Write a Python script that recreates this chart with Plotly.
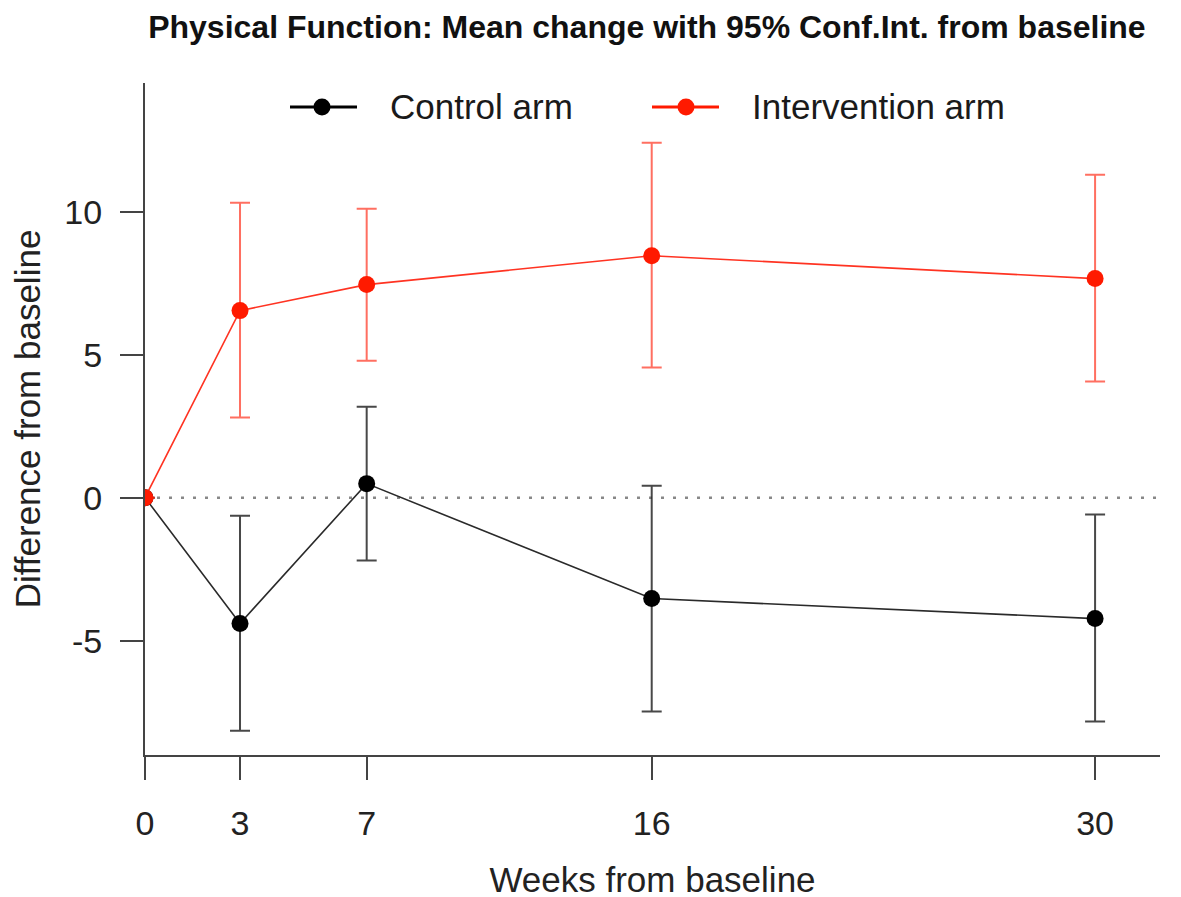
import plotly.graph_objects as go

weeks = [0, 3, 7, 16, 30]
control_mean = [0, -4.40, 0.49, -3.53, -4.23]
control_lower = [None, -8.15, -2.20, -7.48, -7.83]
control_upper = [None, -0.63, 3.18, 0.42, -0.59]
interv_mean = [0, 6.54, 7.45, 8.46, 7.66]
interv_lower = [None, 2.80, 4.79, 4.55, 4.06]
interv_upper = [None, 10.31, 10.10, 12.41, 11.29]
x_ticks = [0, 3, 7, 16, 30]
y_ticks = [-5, 0, 5, 10]

FONT = "Liberation Sans, Arial, sans-serif"


def err_plus(mean, upper):
    return [None if u is None else u - m for m, u in zip(mean, upper)]


def err_minus(mean, lower):
    return [None if l is None else m - l for m, l in zip(mean, lower)]


fig = go.Figure()
fig.add_trace(go.Scatter(
    x=weeks, y=control_mean, mode="lines+markers", name="Control arm",
    line=dict(color="#2a2a2a", width=1.6),
    marker=dict(color="#000000", size=17),
    error_y=dict(type="data", symmetric=False,
                 array=err_plus(control_mean, control_upper),
                 arrayminus=err_minus(control_mean, control_lower),
                 color="rgba(40,40,40,0.85)", thickness=2, width=10),
    showlegend=False,
))
fig.add_trace(go.Scatter(
    x=weeks, y=interv_mean, mode="lines+markers", name="Intervention arm",
    line=dict(color="#ff3322", width=1.6),
    marker=dict(color="#ff1a00", size=17),
    error_y=dict(type="data", symmetric=False,
                 array=err_plus(interv_mean, interv_upper),
                 arrayminus=err_minus(interv_mean, interv_lower),
                 color="rgba(255,50,30,0.7)", thickness=2, width=10),
    showlegend=False,
))

# zero reference line
fig.add_shape(type="line", xref="x", yref="y", x0=0, x1=32.05, y0=0, y1=0,
              line=dict(color="#888888", width=2.5, dash="3px,9px"), layer="below")

# custom legend (paper coordinates; plot area spans 145..1160 x 83..755 on screen)
W, H, L, B = 1015.0, 672.0, 145.0, 755.0


def px(xp):
    return (xp - L) / W


def py(yp):
    return (B - yp) / H


legend_items = [("Control arm", "#000000", 290, 357, 322, 388),
                ("Intervention arm", "#ff1a00", 652, 719, 686, 750)]
ly = 107
for label, col, lx0, lx1, mx, tx in legend_items:
    fig.add_shape(type="line", xref="paper", yref="paper",
                  x0=px(lx0), x1=px(lx1), y0=py(ly), y1=py(ly),
                  line=dict(color=col, width=3))
    fig.add_shape(type="circle", xref="paper", yref="paper",
                  xsizemode="pixel", ysizemode="pixel",
                  xanchor=px(mx), yanchor=py(ly), x0=-8.5, x1=8.5, y0=-8.5, y1=8.5,
                  fillcolor=col, line=dict(color=col, width=0))
    fig.add_annotation(xref="paper", yref="paper", x=px(tx), y=py(ly),
                       xanchor="left", yanchor="middle", showarrow=False,
                       text=label, font=dict(family=FONT, size=35, color="#1a1a1a"))

fig.update_layout(
    width=1181, height=897,
    margin=dict(l=137, r=29, t=75, b=150),
    paper_bgcolor="white", plot_bgcolor="white",
    font=dict(family=FONT, color="#222222"),
    title=dict(text="<b>Physical Function: Mean change with 95% Conf.Int. from baseline</b>",
               x=0.541, xanchor="center", y=0.979, yanchor="middle",
               font=dict(family=FONT, size=32, color="#111111")),
)
fig.update_xaxes(
    range=[0, 32.05], tickvals=x_ticks, ticktext=[str(t) for t in x_ticks],
    automargin=False,
    showgrid=False, zeroline=False, showline=True, linecolor="#444444", linewidth=2,
    ticks="outside", ticklen=23, tickwidth=2, tickcolor="#444444",
    tickfont=dict(family=FONT, size=34, color="#222222"), ticklabelstandoff=14,
    title=dict(text="Weeks from baseline", standoff=27,
               font=dict(family=FONT, size=35, color="#222222")),
)
fig.update_yaxes(
    range=[-9, 14.5], tickvals=y_ticks, ticktext=[str(t) for t in y_ticks],
    automargin=False,
    showgrid=False, zeroline=False, showline=True, linecolor="#444444", linewidth=2,
    ticks="outside", ticklen=23, tickwidth=2, tickcolor="#444444",
    tickfont=dict(family=FONT, size=34, color="#222222"), ticklabelstandoff=11,
    title=dict(text="Difference from baseline", standoff=36,
               font=dict(family=FONT, size=35, color="#222222")),
)

fig.write_html("out.html")
